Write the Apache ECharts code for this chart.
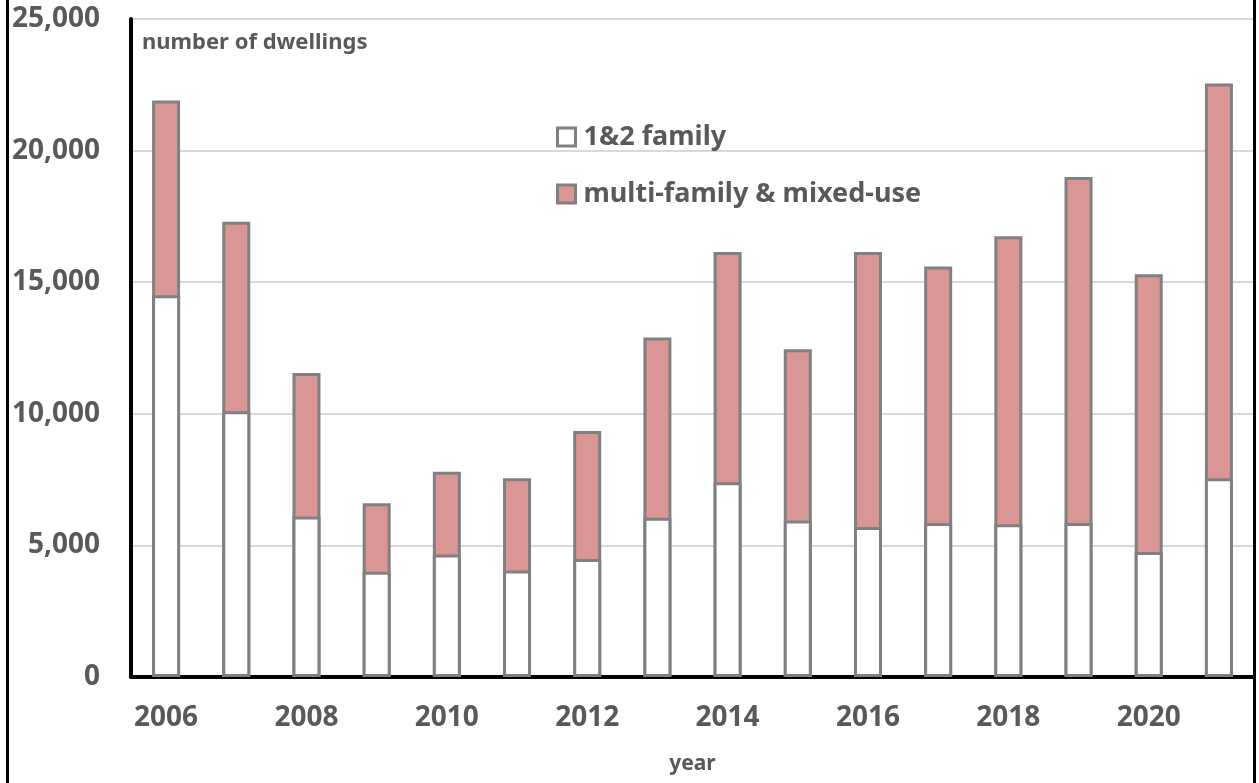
<!DOCTYPE html>
<html>
<head>
<meta charset="utf-8">
<script src="https://cdn.jsdelivr.net/npm/echarts@6/dist/echarts.min.js"></script>
<style>
html,body{margin:0;padding:0;background:#fff;}
#wrap{position:relative;width:1259px;height:783px;overflow:hidden;}
#chart{position:absolute;left:0;top:0;width:1259px;height:783px;}
.frame{position:absolute;top:0;width:3px;height:783px;background:#000;}
</style>
</head>
<body>
<div id="wrap">
<div id="chart"></div>
<div class="frame" style="left:6px"></div>
<div class="frame" style="left:1253px"></div>
</div>
<script>
const years = ['2006','2007','2008','2009','2010','2011','2012','2013','2014','2015','2016','2017','2018','2019','2020','2021'];
const oneTwoFamily = [14500,10100,6100,4000,4650,4050,4480,6050,7400,5950,5700,5850,5800,5850,4750,7550];
const multiFamily = [7400,7200,5450,2600,3150,3500,4870,6850,8750,6500,10450,9750,10950,13150,10550,15000];
// stack tops (1&2 family + multi-family) used so that the shared edge is drawn once
const totals = multiFamily.map((m, i) => m + oneTwoFamily[i]);
const seriesNames = ['1&2 family', 'multi-family & mixed-use'];

const textColor = '#595959';
const font = '"Noto Sans", "Open Sans", sans-serif';

const chart = echarts.init(document.getElementById('chart'), null, {renderer: 'canvas'});
chart.setOption({
  animation: false,
  backgroundColor: '#fff',
  textStyle: {fontFamily: font},
  title: {
    text: 'number of dwellings',
    left: 137, top: 27,
    textStyle: {fontFamily: font, fontSize: 22, fontWeight: 'bold', color: textColor}
  },
  legend: {
    orient: 'vertical',
    left: 551, top: 117,
    itemWidth: 18, itemHeight: 18,
    itemGap: 27,
    icon: 'rect',
    itemStyle: {borderColor: '#808080', borderWidth: 3},
    textStyle: {fontFamily: font, fontSize: 27, fontWeight: 'bold', color: textColor, lineHeight: 30, padding: [0,0,0,3]},
    data: seriesNames
  },
  grid: {left: 131, right: 5, top: 19, bottom: 106, containLabel: false},
  xAxis: {
    type: 'category',
    data: years,
    name: 'year',
    nameLocation: 'middle',
    nameGap: 77,
    nameTextStyle: {fontFamily: font, fontSize: 21, fontWeight: 'bold', color: textColor},
    axisLine: {show: true, lineStyle: {color: '#000', width: 4}},
    axisTick: {show: false},
    axisLabel: {interval: 1, margin: 27, fontFamily: font, fontSize: 28, fontWeight: 'bold', color: textColor}
  },
  yAxis: {
    type: 'value',
    min: 0, max: 25000, interval: 5000,
    axisLine: {show: true, lineStyle: {color: '#000', width: 4}},
    axisTick: {show: false},
    splitLine: {show: true, lineStyle: {color: '#d9d9d9', width: 2}},
    axisLabel: {
      margin: 31, fontFamily: font, fontSize: 28, fontWeight: 'bold', color: textColor,
      formatter: v => v.toLocaleString('en-US')
    }
  },
  series: [
    {
      name: seriesNames[1], type: 'bar', barWidth: 28, barGap: '-100%', z: 2,
      itemStyle: {color: '#DA9694', borderColor: '#808080', borderWidth: 3},
      data: totals
    },
    {
      name: seriesNames[0], type: 'bar', barWidth: 28, barGap: '-100%', z: 3,
      itemStyle: {color: '#ffffff', borderColor: '#808080', borderWidth: 3},
      data: oneTwoFamily
    }
  ]
});
</script>
</body>
</html>
